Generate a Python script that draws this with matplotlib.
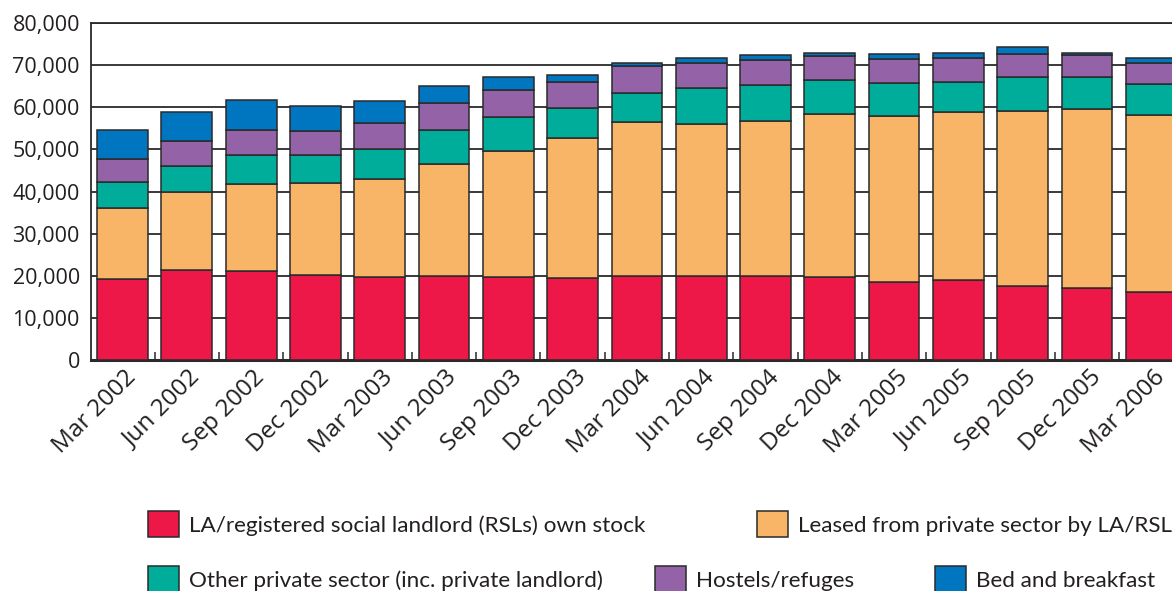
import numpy as np
import matplotlib.pyplot as plt
from matplotlib.ticker import FuncFormatter, FixedLocator
from matplotlib.transforms import ScaledTranslation

# Quarter labels
quarters = ['Mar 2002', 'Jun 2002', 'Sep 2002', 'Dec 2002', 'Mar 2003', 'Jun 2003',
            'Sep 2003', 'Dec 2003', 'Mar 2004', 'Jun 2004', 'Sep 2004', 'Dec 2004',
            'Mar 2005', 'Jun 2005', 'Sep 2005', 'Dec 2005', 'Mar 2006']

# Households in temporary accommodation by type
own_stock = [19200, 21400, 21100, 20300, 19700, 19900, 19700, 19500, 20100,
             20100, 20100, 19800, 18600, 19100, 17700, 17200, 16100]
leased = [17000, 18600, 20700, 21800, 23200, 26700, 29900, 33300, 36500,
          35900, 36600, 38700, 39300, 39700, 41500, 42300, 42000]
other_private = [6000, 6100, 6800, 6600, 7300, 8100, 8100, 7000, 6900,
                 8600, 8500, 8000, 7900, 7300, 8100, 7700, 7500]
hostels = [5500, 6000, 6100, 5800, 6100, 6400, 6500, 6100, 6400,
           6000, 6000, 5600, 5700, 5500, 5400, 5300, 5000]
bnb = [7000, 6800, 7100, 5800, 5300, 3900, 3100, 1700, 700,
       1000, 1300, 800, 1200, 1300, 1500, 500, 1000]

series = [own_stock, leased, other_private, hostels, bnb]
labels = ['LA/registered social landlord (RSLs) own stock',
          'Leased from private sector by LA/RSL',
          'Other private sector (inc. private landlord)',
          'Hostels/refuges',
          'Bed and breakfast']
colors = ['#EE1848', '#F8B467', '#00AD9B', '#9462A7', '#0076C0']

tick_font = 'Open Sans'
legend_font = 'Lato'
dark = '#231F20'

fig = plt.figure(figsize=(11.72, 5.91), dpi=100)
ax = fig.add_axes([91 / 1172, 1 - 360.3 / 591, 1091.8 / 1172, 337.3 / 591])

x = np.arange(len(quarters))
bottom = np.zeros(len(quarters))
containers = []
for vals, col, lab in zip(series, colors, labels):
    bc = ax.bar(x, vals, width=0.79, bottom=bottom, color=col, edgecolor='#2a2a2a',
                linewidth=1.1, label=lab, zorder=3)
    containers.append(bc)
    bottom += np.array(vals)

ax.set_xlim(-0.49, len(quarters) - 0.51)
ax.set_ylim(0, 80000)
ax.set_yticks(np.arange(0, 80001, 10000))
ax.yaxis.set_major_formatter(FuncFormatter(lambda v, p: f'{int(v):,}'))
ax.grid(axis='y', color='#2a2a2a', linewidth=1.3, zorder=0)
ax.set_axisbelow(True)

for s in ['left', 'top', 'right']:
    ax.spines[s].set_color('#2a2a2a')
    ax.spines[s].set_linewidth(1.3)
ax.spines['bottom'].set_color('#2a2a2a')
ax.spines['bottom'].set_linewidth(2.2)

ax.tick_params(axis='y', length=0, pad=8, labelsize=15.5, labelcolor=dark)
ax.set_xticks(x)
ax.set_xticklabels(quarters)
ax.xaxis.set_minor_locator(FixedLocator(x[:-1] + 0.5))
ax.tick_params(axis='x', which='major', length=0, pad=13, labelsize=17.5, labelcolor=dark)
ax.tick_params(axis='x', which='minor', direction='in', length=6, width=1.1, color='#2a2a2a')

shift = ScaledTranslation(14.5 / 100, 0, fig.dpi_scale_trans)
for t in ax.get_xticklabels():
    t.set_rotation(45)
    t.set_rotation_mode('anchor')
    t.set_ha('right')
    t.set_va('baseline')
    t.set_family(tick_font)
    t.set_transform(t.get_transform() + shift)
for t in ax.get_yticklabels():
    t.set_family(tick_font)

# Legend: one entry per slot, laid out as in the original
slots = [(148, 524), (757, 524), (148, 579), (655, 579), (935, 579)]
fs = 16.2
em = fs * 100 / 72
for bc, lab, (px, py) in zip(containers, labels, slots):
    fig.legend(handles=[bc], labels=[lab], loc='center left',
               bbox_to_anchor=(px / 1172, 1 - py / 591), frameon=False,
               borderpad=0, borderaxespad=0, handlelength=31 / em,
               handleheight=30 / em, handletextpad=10 / em,
               prop={'family': legend_font, 'size': fs}, labelcolor=dark)

fig.savefig('out.png', dpi=100)
